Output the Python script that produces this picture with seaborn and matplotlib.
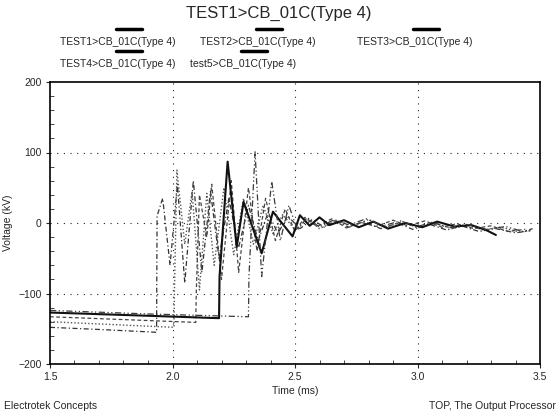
import numpy as np
import pandas as pd
import matplotlib
matplotlib.use("Agg")
import matplotlib.pyplot as plt
from matplotlib.lines import Line2D
from matplotlib.ticker import MultipleLocator
import seaborn as sns

# Traces (time in ms, voltage in kV)
t1_time = [1.5, 1.7, 1.935, 1.937, 1.96, 1.99, 2.02, 2.05, 2.085, 2.12, 2.155, 2.19, 2.23,
           2.27, 2.31, 2.35, 2.39, 2.43, 2.47, 2.52, 2.57, 2.62, 2.66, 2.72, 2.78, 2.85,
           2.92, 2.98, 3.05, 3.12, 3.18, 3.25, 3.32, 3.40, 3.46]
t1_kv = [-148, -151, -155, 10, 35, -60, 55, -85, 60, -70, 45, -50, 35,
         -35, 25, -25, 15, -15, 10, -8, 5, -6, 4, -6, 2, -8,
         0, -9, -2, -10, -4, -12, -8, -14, -11]

t2_time = [1.5, 1.75, 2.006, 2.008, 2.018, 2.05, 2.08, 2.11, 2.14, 2.17, 2.21, 2.25, 2.29,
           2.33, 2.37, 2.41, 2.45, 2.5, 2.55, 2.6, 2.67, 2.74, 2.8, 2.87, 2.94, 3.0,
           3.07, 3.14, 3.2, 3.27, 3.34, 3.42, 3.47]
t2_kv = [-140, -144, -148, -95, 75, -30, 45, -95, 42, -60, 50, -45, 35,
         -30, 25, -15, 12, -10, 6, -8, 3, -4, 5, -6, 2, -7,
         0, -8, -3, -10, -6, -13, -10]

t3_time = [1.5, 1.8, 2.095, 2.097, 2.11, 2.14, 2.16, 2.2, 2.24, 2.27, 2.31, 2.345, 2.38,
           2.42, 2.46, 2.5, 2.54, 2.59, 2.65, 2.71, 2.77, 2.83, 2.9, 2.96, 3.03, 3.1,
           3.16, 3.23, 3.3, 3.37, 3.44]
t3_kv = [-133, -137, -141, -98, 40, -20, 55, -80, 60, -70, 50, -40, 35,
         -25, 20, -12, 8, -5, 6, -7, 1, -5, 4, -4, 3, -6,
         -1, -8, -4, -12, -9]

t4_time = [1.5, 1.85, 2.19, 2.192, 2.225, 2.262, 2.29, 2.364, 2.41, 2.49, 2.52, 2.56, 2.6,
           2.64, 2.7, 2.76, 2.82, 2.88, 2.95, 3.02, 3.08, 3.15, 3.22, 3.28, 3.32]
t4_kv = [-127, -131, -135, -76, 87, -34, 30, -43, 16, -19, 11, -4, 8,
         -3, 4, -6, 2, -8, 0, -6, 2, -5, -3, -10, -17]

t5_time = [1.5, 1.9, 2.31, 2.312, 2.337, 2.364, 2.405, 2.44, 2.475, 2.51, 2.55, 2.6, 2.66,
           2.72, 2.79, 2.86, 2.93, 3.0, 3.06, 3.13, 3.2, 3.28, 3.36, 3.43, 3.47]
t5_kv = [-124, -129, -133, -76, 101, -76, 59, -25, 25, -10, 8, -6, 5,
         -3, 6, -4, 3, -5, 1, -7, -2, -9, -5, -12, -8]

names = ["TEST1>CB_01C(Type 4)", "TEST2>CB_01C(Type 4)", "TEST3>CB_01C(Type 4)",
         "TEST4>CB_01C(Type 4)", "test5>CB_01C(Type 4)"]
times = [t1_time, t2_time, t3_time, t4_time, t5_time]
volts = [t1_kv, t2_kv, t3_kv, t4_kv, t5_kv]

x_ticks = [1.5, 2.0, 2.5, 3.0, 3.5]
y_ticks = [-200, -100, 0, 100, 200]

sns.set_style("white")
plt.rcParams['font.family'] = ['Liberation Sans', 'DejaVu Sans']

W, H = 557, 418
fig = plt.figure(figsize=(W / 100, H / 100), dpi=100)
ax = fig.add_axes([50 / W, 1 - 364 / H, 490 / W, 282 / H])

styles = [
    dict(color="#333333", linestyle=(0, (4, 2, 1, 2)), lw=0.9),
    dict(color="#555555", linestyle=(0, (1, 1.5)), lw=1.0),
    dict(color="#444444", linestyle=(0, (3, 2)), lw=0.9),
    dict(color="#111111", linestyle="-", lw=1.5),
    dict(color="#3a3a3a", linestyle=(0, (5, 2, 1, 2, 1, 2)), lw=0.9),
]

for name, t, v, st in zip(names, times, volts, styles):
    df = pd.DataFrame({"time": t, "kv": v})
    sns.lineplot(data=df, x="time", y="kv", ax=ax, estimator=None, sort=False,
                 color=st["color"], linestyle=st["linestyle"], lw=st["lw"])

ax.set_xlim(1.5, 3.5)
ax.set_ylim(-200, 200)
ax.set_xticks(x_ticks)
ax.set_xticklabels([f"{x:.1f}" for x in x_ticks])
ax.set_yticks(y_ticks)
ax.xaxis.set_minor_locator(MultipleLocator(0.1))
ax.yaxis.set_minor_locator(MultipleLocator(20))
ax.tick_params(which="major", direction="out", length=3, width=0.8, labelsize=7.5, pad=3)
ax.tick_params(which="minor", direction="in", length=3, width=0.6)
ax.tick_params(axis="both", which="both", bottom=True, left=True, top=False, right=False)

for gx in [2.0, 2.5, 3.0]:
    ax.axvline(gx, color="#222222", lw=0.8, linestyle=(0, (1, 5)), zorder=0)
for gy in [-100, 0, 100]:
    ax.axhline(gy, color="#222222", lw=0.8, linestyle=(0, (1, 5)), zorder=0)

for sp in ax.spines.values():
    sp.set_color("black")
    sp.set_linewidth(1.2)

ax.set_xlabel("Time (ms)", fontsize=7.5, labelpad=3)
ax.set_ylabel("Voltage (kV)", fontsize=7.5, labelpad=4)

# title and legend drawn in pixel positions on the figure
fig.text(0.5, 1 - 13 / H, "TEST1>CB_01C(Type 4)", ha="center", va="center", fontsize=12)

legend_pos = [(118, 42), (258, 42), (415, 42), (118, 64), (243, 64)]
for name, (cx, cy) in zip(names, legend_pos):
    fig.text(cx / W, 1 - cy / H, name, ha="center", va="center", fontsize=7.5)
    x0, x1 = cx - 2, cx + 24
    ly = 1 - (cy - 13) / H
    fig.add_artist(Line2D([x0 / W, x1 / W], [ly, ly], color="black", lw=2.5,
                          transform=fig.transFigure))

fig.text(4 / W, 1 - 406 / H, "Electrotek Concepts", ha="left", va="center", fontsize=7.5)
fig.text(556 / W, 1 - 406 / H, "TOP, The Output Processor", ha="right", va="center", fontsize=7.5)

fig.savefig("out.png", dpi=100)
